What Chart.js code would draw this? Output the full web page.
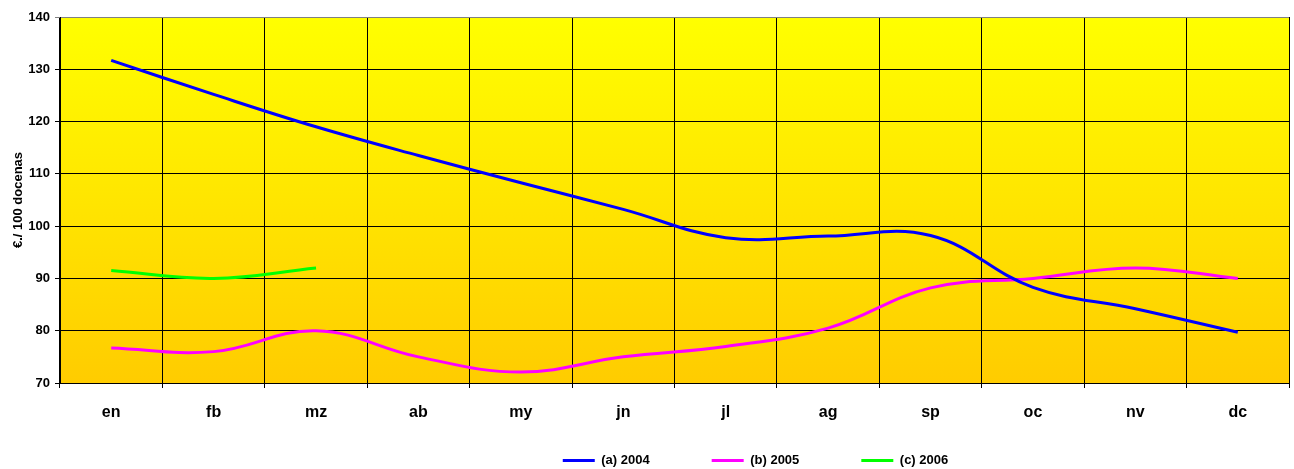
<!DOCTYPE html>
<html>
<head>
<meta charset="utf-8">
<script src="https://cdn.jsdelivr.net/npm/chart.js@4"></script>
<style>
  html, body { margin: 0; padding: 0; background: #fff; }
  #wrap { width: 1294px; height: 469px; }
</style>
</head>
<body>
<div id="wrap"><canvas id="linechart"></canvas></div>
<script>
const months = ['en', 'fb', 'mz', 'ab', 'my', 'jn', 'jl', 'ag', 'sp', 'oc', 'nv', 'dc'];
const serie2004 = [131.7, 125.2, 119.0, 113.5, 108.3, 103.2, 97.8, 98.1, 98.2, 88.3, 84.2, 79.7];
const serie2005 = [76.7, 76.0, 80.0, 75.0, 72.1, 75.0, 77.0, 80.5, 88.2, 90.0, 92.0, 90.0];
const serie2006 = [91.5, 90.0, 92.0];
const yMin = 70, yMax = 140, yStep = 10;

// yellow -> orange background inside the plot area
const plotBackground = {
    id: 'plotBackground',
    beforeDraw(chart) {
        const { ctx, chartArea: a } = chart;
        const g = ctx.createLinearGradient(0, a.top, 0, a.bottom);
        g.addColorStop(0, '#FFFF00');
        g.addColorStop(1, '#FFCC00');
        ctx.save();
        ctx.fillStyle = g;
        ctx.fillRect(a.left, a.top, a.right - a.left, a.bottom - a.top);
        ctx.restore();
    }
};

// small legend box, then moved to where the original has it
const legendPlace = {
    id: 'legendPlace',
    beforeInit(chart) {
        const fit = chart.legend.fit;
        chart.legend.fit = function () {
            fit.call(this);
            this.height = 34;
        };
    },
    afterLayout(chart) {
        const lg = chart.legend;
        const pad = lg.options.labels.padding;
        lg.top = 454 - pad;
        lg.bottom = chart.height;
        lg.left += 111;
        lg.right += 111;
    }
};

Chart.defaults.font.family = '"Liberation Sans", Arial, sans-serif';
Chart.defaults.font.weight = 'bold';
Chart.defaults.color = '#000';

const ctx = document.getElementById('linechart').getContext('2d');
const linechart = new Chart(ctx, {
    type: 'line',
    data: {
        labels: months,
        datasets: [{
            label: '(a) 2004',
            data: serie2004,
            borderColor: '#0000FF',
            backgroundColor: '#0000FF',
            borderWidth: 3
        }, {
            label: '(b) 2005',
            data: serie2005,
            borderColor: '#FF00FF',
            backgroundColor: '#FF00FF',
            borderWidth: 3
        }, {
            label: '(c) 2006',
            data: serie2006,
            borderColor: '#00FF00',
            backgroundColor: '#00FF00',
            borderWidth: 3
        }]
    },
    options: {
        responsive: true,
        maintainAspectRatio: false,
        animation: false,
        layout: { padding: { top: 17, right: 5, left: 0, bottom: 0 } },
        elements: {
            line: { tension: 0.4, borderCapStyle: 'butt' },
            point: { radius: 0, hoverRadius: 0 }
        },
        plugins: {
            tooltip: { enabled: false },
            legend: {
                position: 'bottom',
                labels: {
                    usePointStyle: true,
                    pointStyle: 'line',
                    pointStyleWidth: 32,
                    padding: 62,
                    font: { size: 13, weight: 'bold' }
                }
            }
        },
        scales: {
            x: {
                offset: true,
                grid: {
                    offset: true,
                    color: c => c.index === months.length ? '#808080' : '#000',
                    lineWidth: 1,
                    tickLength: 5
                },
                border: { color: '#000' },
                ticks: { padding: 15, font: { size: 16, weight: 'bold' } },
                afterFit: s => { s.height = 52; }
            },
            y: {
                min: yMin,
                max: yMax,
                ticks: { stepSize: yStep, padding: 5, font: { size: 13, weight: 'bold' } },
                grid: {
                    color: c => c.tick && c.tick.value === yMax ? '#808080' : '#000',
                    lineWidth: 1,
                    tickLength: 5
                },
                border: { color: '#000' },
                title: {
                    display: true,
                    text: '€./ 100 docenas',
                    font: { size: 13, weight: 'bold' },
                    padding: { top: 11, bottom: 0 }
                },
                afterFit: s => { s.width = 60; }
            }
        }
    },
    plugins: [plotBackground, legendPlace]
});
</script>
</body>
</html>
